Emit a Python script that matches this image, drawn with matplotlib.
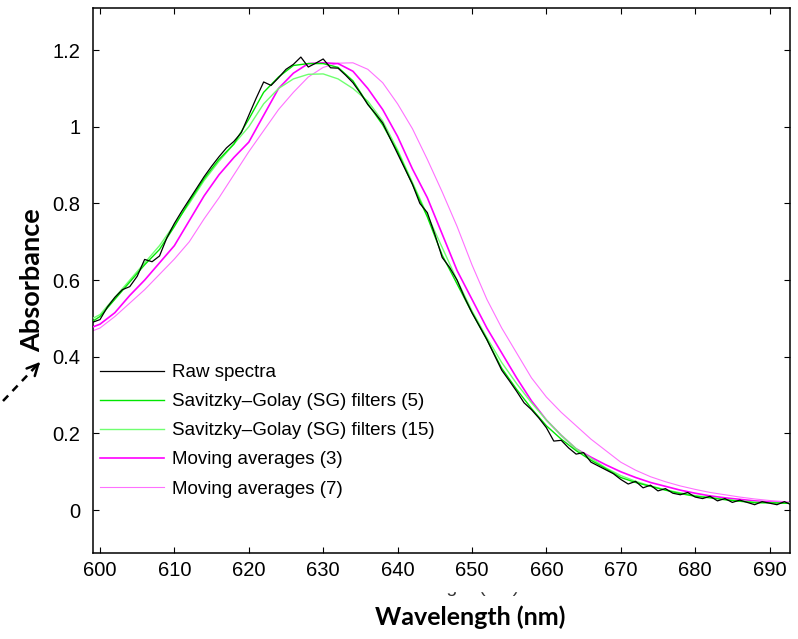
import numpy as np
import matplotlib
matplotlib.use("Agg")
import matplotlib.pyplot as plt
from matplotlib.lines import Line2D
from matplotlib.patches import Rectangle

# wavelength grid of the raw spectrum (1 nm) and of the smoothed curves (2 nm)
wl_raw = list(range(599, 696))
raw = [0.49, 0.497, 0.53, 0.555, 0.575, 0.583, 0.61, 0.654, 0.648, 0.663,
       0.711, 0.748, 0.78, 0.81, 0.84, 0.87, 0.897, 0.922, 0.945, 0.962,
       0.985, 1.03, 1.075, 1.117, 1.108, 1.128, 1.15, 1.163, 1.182, 1.156,
       1.166, 1.177, 1.154, 1.153, 1.135, 1.115, 1.088, 1.058, 1.035, 1.01,
       0.97, 0.93, 0.89, 0.85, 0.80, 0.776, 0.72, 0.659, 0.633, 0.60,
       0.555, 0.515, 0.48, 0.445, 0.405, 0.365, 0.338, 0.31, 0.28, 0.262,
       0.24, 0.215, 0.18, 0.182, 0.162, 0.146, 0.15, 0.125, 0.115, 0.105,
       0.095, 0.08, 0.068, 0.075, 0.058, 0.065, 0.05, 0.056, 0.044, 0.04,
       0.046, 0.034, 0.03, 0.036, 0.024, 0.03, 0.02, 0.026, 0.02, 0.014,
       0.022, 0.018, 0.014, 0.022, 0.013, 0.02, 0.015]

wl_s = list(range(598, 696, 2))
sg5 = [0.48, 0.505, 0.55, 0.595, 0.64, 0.68, 0.74, 0.805, 0.865, 0.915,
       0.955, 1.02, 1.09, 1.13, 1.16, 1.165, 1.165, 1.155, 1.12, 1.06,
       1.005, 0.935, 0.85, 0.765, 0.665, 0.59, 0.515, 0.445, 0.37, 0.315,
       0.265, 0.22, 0.185, 0.155, 0.13, 0.108, 0.085, 0.072, 0.062, 0.052,
       0.043, 0.036, 0.032, 0.027, 0.023, 0.019, 0.019, 0.018, 0.017]
sg15 = [0.49, 0.51, 0.555, 0.6, 0.645, 0.69, 0.745, 0.80, 0.86, 0.91,
        0.955, 1.0, 1.06, 1.10, 1.125, 1.137, 1.138, 1.125, 1.10, 1.067,
        1.015, 0.94, 0.855, 0.77, 0.685, 0.6, 0.52, 0.45, 0.385, 0.33,
        0.28, 0.235, 0.195, 0.16, 0.135, 0.11, 0.09, 0.075, 0.063, 0.053,
        0.045, 0.038, 0.033, 0.028, 0.024, 0.021, 0.019, 0.018, 0.017]
ma3 = [0.47, 0.485, 0.515, 0.56, 0.60, 0.645, 0.69, 0.755, 0.82, 0.875,
       0.92, 0.96, 1.03, 1.10, 1.14, 1.165, 1.167, 1.165, 1.145, 1.10,
       1.045, 0.975, 0.89, 0.815, 0.72, 0.625, 0.55, 0.475, 0.41, 0.345,
       0.285, 0.235, 0.195, 0.16, 0.138, 0.118, 0.10, 0.085, 0.072, 0.062,
       0.052, 0.044, 0.037, 0.032, 0.028, 0.024, 0.021, 0.019, 0.018]
ma7 = [0.46, 0.475, 0.505, 0.54, 0.575, 0.615, 0.655, 0.70, 0.76, 0.815,
       0.875, 0.935, 0.99, 1.045, 1.09, 1.13, 1.155, 1.166, 1.167, 1.15,
       1.115, 1.06, 0.995, 0.915, 0.83, 0.74, 0.64, 0.55, 0.475, 0.41,
       0.345, 0.295, 0.255, 0.22, 0.185, 0.155, 0.125, 0.104, 0.087, 0.074,
       0.063, 0.054, 0.046, 0.04, 0.034, 0.029, 0.025, 0.022, 0.02]

labels = ['Raw spectra', 'Savitzky\u2013Golay (SG) filters (5)',
          'Savitzky\u2013Golay (SG) filters (15)', 'Moving averages (3)',
          'Moving averages (7)']
xticks = list(range(600, 700, 10))
yticks = [0, 0.2, 0.4, 0.6, 0.8, 1, 1.2]

W, H = 798, 639
fig = plt.figure(figsize=(W / 100, H / 100), dpi=100)
ax = fig.add_axes([93 / W, 1 - 553 / H, (790 - 93) / W, (553 - 8) / H])

ax.plot(wl_raw, raw, color='black', lw=0.9, label=labels[0], zorder=6)
ax.plot(wl_s, sg5, color='#00e600', lw=1.0, label=labels[1], zorder=5)
ax.plot(wl_s, sg15, color='#70ff70', lw=1.0, label=labels[2], zorder=4)
ax.plot(wl_s, ma3, color='#ff00ff', lw=1.2, label=labels[3], zorder=3)
ax.plot(wl_s, ma7, color='#ff70ff', lw=0.8, label=labels[4], zorder=2)

ax.set_xlim(599.06, 692.75)
ax.set_ylim(-0.112, 1.31)
ax.set_xticks(xticks)
ax.set_yticks(yticks)
ax.set_yticklabels(['0', '0.2', '0.4', '0.6', '0.8', '1', '1.2'])
ax.tick_params(direction='in', length=4.5, width=0.8, top=True, right=True,
               labelsize=14.5)
ax.tick_params(axis='x', pad=6)
ax.tick_params(axis='y', pad=9)
for lab in ax.get_xticklabels() + ax.get_yticklabels():
    lab.set_family('Liberation Sans')
for s in ax.spines.values():
    s.set_linewidth(1.1)

leg = ax.legend(loc='upper left', bbox_to_anchor=(100 / W, 1 - 364 / H),
                bbox_transform=fig.transFigure, frameon=False,
                prop={'family': 'Liberation Sans', 'size': 13.5},
                handlelength=3.4, handletextpad=0.45, labelspacing=0.64,
                borderpad=0, borderaxespad=0)

# axis titles
fig.text(32 / W, 1 - 280 / H, 'Absorbance', rotation=90, ha='center',
         va='center', fontsize=19.5, fontweight='bold', family='Lato')
fig.text(470 / W, 1 - 617 / H, 'Wavelength (nm)', ha='center', va='center',
         fontsize=18, fontweight='bold', family='Lato')

# original x label, mostly hidden behind a white strip: only its bottom shows
fig.text(445 / W, 1 - 592 / H, 'Wavelength (nm)', ha='center',
         va='baseline', fontsize=14, family='Liberation Sans',
         color='#333333', zorder=3)
fig.patches.append(Rectangle((340 / W, 1 - 590.5 / H), 220 / W, 13 / H,
                             transform=fig.transFigure, color='white',
                             zorder=4))

# dashed arrow pointing to the y label
fig.add_artist(Line2D([3 / W, 40 / W], [1 - 401 / H, 1 - 362 / H],
                      color='black', lw=1.8, ls=(0, (3, 2.5))))
ax.annotate('', xy=(42 / W, 1 - 360 / H), xytext=(36 / W, 1 - 366.5 / H),
            xycoords='figure fraction', textcoords='figure fraction',
            arrowprops=dict(arrowstyle='->,head_length=0.8,head_width=0.4',
                            color='black', lw=1.8), annotation_clip=False)

fig.savefig('out.png', dpi=100)
